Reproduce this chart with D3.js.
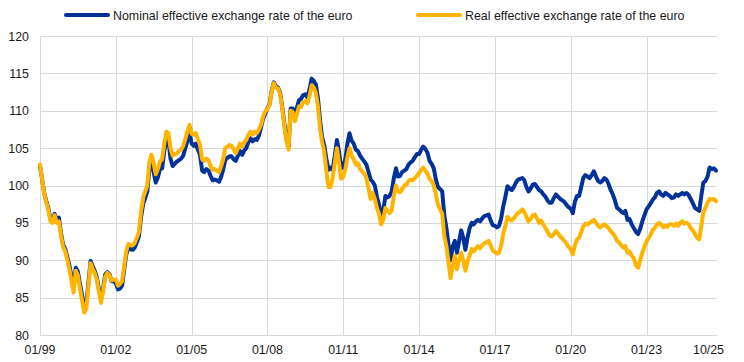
<!DOCTYPE html>
<html>
<head>
<meta charset="utf-8">
<script src="https://cdn.jsdelivr.net/npm/d3@7"></script>
<style>
  body { margin: 0; background: #fff; }
  svg text { font-family: "Liberation Sans", Arial, sans-serif; font-size: 12.4px; fill: #1a1a1a; }
</style>
</head>
<body>
<svg id="chart" width="744" height="362"></svg>
<script>
// monthly values, Jan 1999 .. Oct 2025
var start_month = '1999-01'
var end_month = '2025-10'

var nominal = [
    102.6, 100.8, 99.1, 97.9, 97.0, 95.5, 95.3, 96.2, 95.4, 95.7, 93.6, 92.1,   // 1999
    91.5, 90.4, 89.3, 87.8, 86.6, 89.0, 88.5, 86.8, 85.3, 83.7, 84.2, 87.0,     // 2000
    89.9, 89.2, 88.6, 87.7, 86.2, 84.8, 86.2, 88.1, 88.4, 88.1, 87.2, 87.2,     // 2001
    86.9, 86.1, 86.2, 86.6, 88.7, 90.8, 91.6, 91.5, 91.4, 91.7, 92.4, 93.2,     // 2002
    95.8, 97.6, 98.3, 99.2, 102.3, 103.2, 101.8, 100.4, 101.1, 102.2, 102.3, 104.5, // 2003
    106.3, 106.0, 103.6, 102.6, 102.9, 103.2, 103.4, 103.6, 104.0, 105.0, 106.0, 107.0, // 2004
    105.6, 105.3, 105.6, 104.8, 104.1, 102.0, 101.8, 102.2, 102.0, 101.3, 100.7, 100.8, // 2005
    100.7, 100.5, 101.1, 102.1, 103.4, 103.7, 103.9, 103.9, 103.5, 103.3, 104.0, 104.6, // 2006
    104.1, 104.7, 105.0, 105.8, 106.3, 105.9, 106.2, 106.1, 106.7, 107.8, 109.0, 109.6, // 2007
    110.3, 110.9, 112.6, 113.8, 113.3, 113.1, 112.5, 110.6, 108.3, 106.3, 105.1, 110.3, // 2008
    110.3, 109.3, 110.4, 111.4, 111.6, 112.1, 112.2, 111.8, 112.9, 114.3, 114.0, 113.5, // 2009
    111.6, 108.6, 106.5, 105.4, 103.6, 102.1, 102.4, 102.1, 104.0, 106.1, 104.5, 102.3, // 2010
    102.5, 103.6, 105.5, 107.0, 106.0, 105.6, 104.8, 104.6, 104.0, 103.6, 103.2, 102.8, // 2011
    101.8, 100.8, 100.5, 100.0, 98.5, 97.4, 96.0, 96.6, 98.6, 98.4, 98.6, 99.2,   // 2012
    101.0, 102.3, 101.2, 101.3, 101.8, 102.0, 102.2, 102.8, 103.1, 103.3, 103.8, 104.2, // 2013
    104.2, 104.8, 105.2, 104.9, 104.4, 103.3, 102.9, 102.3, 100.8, 99.8, 99.5, 99.2, // 2014
    96.0, 94.2, 92.2, 90.0, 91.8, 92.6, 91.0, 92.5, 94.0, 93.0, 91.4, 93.0,     // 2015
    94.3, 95.0, 94.8, 95.2, 95.4, 95.2, 95.6, 95.9, 96.0, 96.1, 95.3, 94.7,     // 2016
    94.6, 94.4, 94.6, 95.6, 97.2, 98.5, 99.9, 99.6, 99.4, 99.8, 100.4, 100.8,   // 2017
    100.9, 101.0, 100.7, 99.8, 99.2, 99.6, 100.1, 100.2, 99.8, 99.4, 99.2, 98.8, // 2018
    98.5, 98.0, 97.7, 97.7, 98.3, 98.8, 98.5, 98.2, 98.0, 97.8, 97.4, 97.1,     // 2019
    96.9, 96.3, 97.8, 98.6, 98.6, 99.8, 101.0, 101.4, 101.2, 101.0, 101.4, 101.9, // 2020
    101.2, 100.6, 100.4, 100.6, 101.0, 100.8, 100.2, 99.4, 98.8, 98.0, 97.0, 96.8, // 2021
    96.5, 96.3, 96.6, 95.4, 95.5, 94.8, 94.3, 93.8, 93.5, 94.2, 95.2, 96.0,     // 2022
    96.8, 97.2, 97.6, 98.1, 98.4, 99.0, 99.2, 98.8, 98.6, 99.0, 98.8, 98.6,     // 2023
    98.3, 98.4, 98.8, 98.6, 98.8, 99.0, 98.8, 99.0, 98.7, 98.2, 97.6, 97.0,     // 2024
    96.8, 96.6, 98.5, 100.4, 100.6, 101.2, 102.4, 102.2, 102.3, 102.0           // 2025
]

var real = [
    102.8, 100.8, 99.0, 97.8, 96.8, 95.2, 95.0, 96.0, 95.0, 95.2, 93.3, 91.8,   // 1999
    91.2, 90.0, 88.8, 87.2, 85.7, 88.6, 88.0, 86.2, 84.6, 83.0, 83.6, 86.5,     // 2000
    89.6, 88.8, 88.3, 87.4, 85.8, 84.3, 85.8, 87.8, 88.3, 88.0, 87.3, 87.4,     // 2001
    87.4, 86.6, 86.8, 87.2, 89.2, 91.2, 92.2, 92.0, 92.0, 92.3, 93.0, 93.8,     // 2002
    96.6, 98.4, 99.2, 100.0, 103.2, 104.1, 103.0, 101.5, 102.2, 103.2, 103.5, 105.5, // 2003
    107.2, 107.0, 105.0, 104.0, 104.2, 104.3, 104.6, 104.8, 105.3, 106.2, 107.3, 108.1, // 2004
    106.9, 106.8, 107.0, 106.2, 105.5, 103.5, 103.3, 103.6, 103.4, 102.6, 102.1, 102.2, // 2005
    102.0, 101.8, 102.5, 103.5, 105.0, 105.2, 105.4, 105.3, 104.8, 104.3, 105.0, 105.6, // 2006
    105.2, 105.8, 106.1, 106.8, 107.2, 106.8, 107.2, 107.0, 107.5, 108.1, 109.3, 109.9, // 2007
    110.2, 110.8, 112.5, 113.7, 113.1, 113.0, 112.3, 110.4, 108.0, 106.0, 104.8, 110.0, // 2008
    109.8, 108.6, 109.5, 110.6, 110.5, 111.2, 111.3, 111.0, 112.0, 113.4, 113.1, 112.4, // 2009
    110.5, 107.5, 105.8, 104.5, 102.0, 99.8, 99.8, 101.0, 103.0, 105.0, 103.0, 100.9, // 2010
    101.2, 102.2, 103.8, 105.0, 104.0, 103.5, 102.8, 103.0, 102.2, 101.9, 101.6, 101.0, // 2011
    99.6, 98.2, 99.0, 98.2, 97.0, 96.2, 94.8, 95.4, 97.0, 96.6, 96.3, 96.7,     // 2012
    98.6, 100.0, 99.2, 99.1, 99.5, 100.0, 100.1, 100.6, 100.8, 100.7, 101.0, 101.3, // 2013
    101.7, 102.1, 102.4, 102.0, 101.6, 100.9, 100.6, 100.0, 98.8, 97.4, 96.8, 96.2, // 2014
    93.2, 91.8, 89.8, 87.6, 89.2, 90.6, 88.8, 90.0, 91.0, 90.0, 88.6, 89.8,     // 2015
    90.6, 91.5, 91.2, 91.6, 91.9, 91.6, 92.0, 92.3, 92.4, 92.6, 92.0, 91.3,     // 2016
    91.1, 90.9, 91.0, 92.0, 93.5, 94.6, 95.8, 95.5, 95.3, 95.6, 96.0, 96.3,     // 2017
    96.5, 96.8, 96.5, 95.8, 95.2, 95.5, 96.0, 96.1, 95.6, 95.0, 95.3, 94.8,     // 2018
    94.3, 93.8, 93.3, 93.2, 93.5, 93.9, 93.6, 93.2, 92.9, 92.6, 92.2, 91.8,     // 2019
    91.5, 90.8, 92.0, 92.8, 93.0, 93.8, 94.5, 94.9, 94.8, 95.0, 95.2, 95.4,     // 2020
    95.0, 94.6, 94.4, 94.6, 94.8, 94.6, 94.3, 93.9, 93.6, 93.2, 92.6, 92.4,     // 2021
    92.0, 91.7, 91.9, 91.0, 91.2, 90.6, 90.3, 89.3, 89.0, 90.0, 91.0, 91.8,     // 2022
    92.5, 93.0, 93.4, 94.1, 94.3, 94.8, 95.0, 94.8, 94.4, 94.6, 94.5, 94.8,     // 2023
    94.8, 94.6, 94.9, 94.6, 95.0, 95.2, 94.9, 95.0, 94.8, 94.3, 94.0, 93.5,     // 2024
    93.0, 92.8, 94.5, 96.4, 97.0, 97.7, 98.2, 98.1, 98.2, 97.9                  // 2025
]

var y_ticks = [80, 85, 90, 95, 100, 105, 110, 115, 120]
var x_ticks = ['1999-01', '2002-01', '2005-01', '2008-01', '2011-01', '2014-01', '2017-01', '2020-01', '2023-01']
var series_names = ['Nominal effective exchange rate of the euro', 'Real effective exchange rate of the euro']
var series_colors = ['#003299', '#ffb400']

var parseMonth = d3.timeParse('%Y-%m')
var months = d3.timeMonth.range(parseMonth(start_month), d3.timeMonth.offset(parseMonth(end_month), 1))

var svg = d3.select('#chart')
var plot_left = 40, plot_right = 716, plot_top = 36, plot_bottom = 335

var x = d3.scaleTime()
    .domain([parseMonth(start_month), parseMonth(end_month)])
    .range([plot_left, plot_right])
var y = d3.scaleLinear()
    .domain([80, 120])
    .range([plot_bottom, plot_top])

// horizontal grid + y labels
svg.selectAll('.hgrid')
    .data(y_ticks)
    .enter().append('line')
    .attr('class', 'hgrid')
    .attr('x1', plot_left).attr('x2', plot_right + 1)
    .attr('y1', (d) => Math.round(y(d)) + 0.5).attr('y2', (d) => Math.round(y(d)) + 0.5)
    .style('stroke', '#d9d9d9')
    .style('stroke-width', 1)

svg.selectAll('.ylab')
    .data(y_ticks)
    .enter().append('text')
    .attr('class', 'ylab')
    .attr('x', 29)
    .attr('y', (d) => y(d) + 4.5)
    .attr('text-anchor', 'end')
    .text((d) => d)

// vertical grid + x labels
svg.selectAll('.vgrid')
    .data(x_ticks)
    .enter().append('line')
    .attr('class', 'vgrid')
    .attr('x1', (d) => Math.round(x(parseMonth(d))) + 0.5)
    .attr('x2', (d) => Math.round(x(parseMonth(d))) + 0.5)
    .attr('y1', plot_top).attr('y2', plot_bottom)
    .style('stroke', '#d9d9d9')
    .style('stroke-width', 1)

var fmt = d3.timeFormat('%m/%y')
svg.selectAll('.xlab')
    .data(x_ticks)
    .enter().append('text')
    .attr('class', 'xlab')
    .attr('x', (d) => x(parseMonth(d)))
    .attr('y', 354)
    .attr('text-anchor', 'middle')
    .text((d) => fmt(parseMonth(d)))

svg.append('text')
    .attr('x', x(parseMonth(end_month)) + 8)
    .attr('y', 354)
    .attr('text-anchor', 'end')
    .text(fmt(parseMonth(end_month)))

// lines
var line = d3.line()
    .x((d, i) => x(months[i]))
    .y((d) => y(d))

;[nominal, real].forEach((s, k) => {
    svg.append('path')
        .datum(s)
        .attr('d', line)
        .style('fill', 'none')
        .style('stroke', series_colors[k])
        .style('stroke-width', 4)
        .style('stroke-linejoin', 'round')
        .style('stroke-linecap', 'round')
})

// legend
var legend_x = [66, 418]
var legend = svg.selectAll('.legend')
    .data(series_names)
    .enter().append('g')
    .attr('class', 'legend')
    .attr('transform', (d, i) => 'translate(' + legend_x[i] + ',15)')

legend.append('line')
    .attr('x1', 0).attr('x2', 42)
    .attr('y1', 0).attr('y2', 0)
    .style('stroke', (d, i) => series_colors[i])
    .style('stroke-width', 4)
    .style('stroke-linecap', 'round')

legend.append('text')
    .attr('x', 47)
    .attr('y', 4.5)
    .text((d) => d)
</script>
</body>
</html>
